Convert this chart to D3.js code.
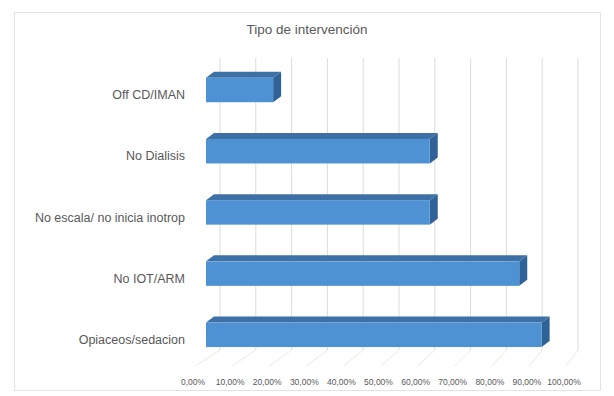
<!DOCTYPE html>
<html>
<head>
<meta charset="utf-8">
<script src="https://cdn.jsdelivr.net/npm/d3@7"></script>
<style>
  html, body { margin: 0; padding: 0; background: #ffffff; }
  svg { display: block; }
</style>
</head>
<body>
<svg id="chart" width="614" height="396"></svg>
<script>
// Data
const categories = ["Off CD/IMAN", "No Dialisis", "No escala/ no inicia inotrop", "No IOT/ARM", "Opiaceos/sedacion"];
const values = [0.1875, 0.625, 0.625, 0.875, 0.9375];
const tickValues = [0, 0.1, 0.2, 0.3, 0.4, 0.5, 0.6, 0.7, 0.8, 0.9, 1.0];
const title = "Tipo de intervención";

const svg = d3.select("#chart");
const font = "'Liberation Sans', Arial, sans-serif";
const textColor = "#595959";

// Chart frame
svg.append("rect")
  .attr("x", 14.5).attr("y", 12.5)
  .attr("width", 586).attr("height", 378)
  .attr("fill", "#ffffff")
  .attr("stroke", "#e3e3e3");

// 3D box geometry: back wall, floor front edge and the plane of the bars
const wallTop = 58, wallBottom = 350, floorFront = 366;
const xBack = d3.scaleLinear().domain([0, 1]).range([220, 578]);
const xFront = d3.scaleLinear().domain([0, 1]).range([195, 566]);
const xBar = d3.scaleLinear().domain([0, 1]).range([206, 564]);
const depth = { dx: 8, dy: -6 };

const y = d3.scaleBand()
  .domain(categories)
  .range([59.4, 365.4])
  .paddingInner(0.6)
  .paddingOuter(0.3);

// Back wall gridlines
svg.append("g").selectAll("line")
  .data(tickValues)
  .join("line")
  .attr("x1", d => xBack(d)).attr("x2", d => xBack(d))
  .attr("y1", wallTop).attr("y2", wallBottom)
  .attr("stroke", "#dcdcdc").attr("stroke-width", 1);

// Floor gridlines
svg.append("g").selectAll("line")
  .data(tickValues)
  .join("line")
  .attr("x1", d => xBack(d)).attr("y1", wallBottom)
  .attr("x2", d => xFront(d)).attr("y2", floorFront)
  .attr("stroke", "#ede8e1").attr("stroke-width", 1);

// Bars: side face, top face, front face
const bars = svg.append("g").selectAll("g")
  .data(categories.map((c, i) => ({ c, v: values[i] })))
  .join("g");

bars.append("path")
  .attr("d", d => {
    const x1 = xBar(d.v), y0 = y(d.c), h = y.bandwidth();
    return `M${x1},${y0} L${x1 + depth.dx},${y0 + depth.dy} L${x1 + depth.dx},${y0 + h + depth.dy} L${x1},${y0 + h} Z`;
  })
  .attr("fill", "#2f6398");

bars.append("path")
  .attr("d", d => {
    const x0 = xBar(0), x1 = xBar(d.v), y0 = y(d.c);
    return `M${x0},${y0} L${x0 + depth.dx},${y0 + depth.dy} L${x1 + depth.dx},${y0 + depth.dy} L${x1},${y0} Z`;
  })
  .attr("fill", "#3d71a6");

bars.append("rect")
  .attr("x", xBar(0))
  .attr("y", d => y(d.c))
  .attr("width", d => xBar(d.v) - xBar(0))
  .attr("height", y.bandwidth())
  .attr("fill", "#4f92d4");

// Category labels
svg.append("g").selectAll("text")
  .data(categories)
  .join("text")
  .attr("x", 185)
  .attr("y", d => y(d) + y.bandwidth() / 2 + 6)
  .attr("text-anchor", "end")
  .attr("dominant-baseline", "middle")
  .attr("font-family", font)
  .attr("font-size", 12.5)
  .attr("fill", textColor)
  .text(d => d);

// Value axis labels
const fmt = v => (v * 100).toFixed(2).replace(".", ",") + "%";
svg.append("g").selectAll("text")
  .data(tickValues)
  .join("text")
  .attr("x", d => xFront(d) - 2)
  .attr("y", 383)
  .attr("text-anchor", "middle")
  .attr("dominant-baseline", "middle")
  .attr("font-family", font)
  .attr("font-size", 8.5)
  .attr("fill", textColor)
  .text(fmt);

// Title
svg.append("text")
  .attr("x", 307)
  .attr("y", 30)
  .attr("text-anchor", "middle")
  .attr("dominant-baseline", "middle")
  .attr("font-family", font)
  .attr("font-size", 13.5)
  .attr("fill", textColor)
  .text(title);
</script>
</body>
</html>
